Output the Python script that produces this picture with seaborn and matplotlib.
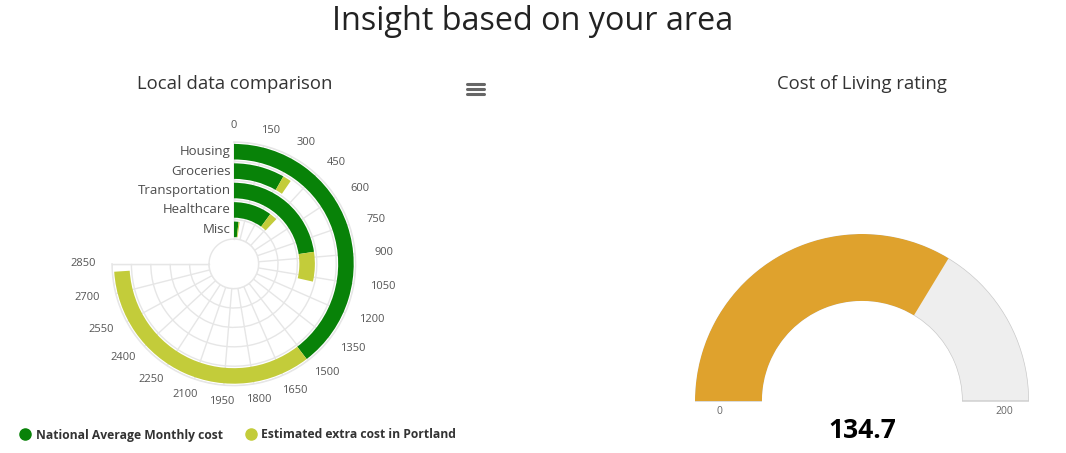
import numpy as np
import matplotlib
matplotlib.use("Agg")
import matplotlib.pyplot as plt
from matplotlib.lines import Line2D
import seaborn as sns

# ===== 数据 =====
categories = ["Housing", "Groceries", "Transportation", "Healthcare", "Misc"]
national_cost = [1505, 312, 860, 383, 68]
extra_cost = [1305, 52, 224, 77, 16]
axis_max = 2850
axis_ticks = list(range(0, 2851, 150))

rating_value = 134.7
rating_max = 200

GREEN = "#088208"
YELLOW = "#c3cc3a"
ORANGE = "#dfa22d"
GRID = "#e6e6e6"

sns.set_theme(style="white")
plt.rcParams["font.family"] = ["Open Sans", "DejaVu Sans"]

fig = plt.figure(figsize=(10.66, 4.53), dpi=100)
W, H = 1066, 453
PT = 72 / 100  # 像素 -> 磅


def fig_box(x0, y0, x1, y1):
    """像素框 -> figure 坐标"""
    return [x0 / W, 1 - y1 / H, (x1 - x0) / W, (y1 - y0) / H]


# ===== 标题 =====
fig.text(533 / W, 1 - 21 / H, "Insight based on your area", ha="center", va="center",
         fontsize=23.3, color="#222222")
fig.text(235 / W, 1 - 84 / H, "Local data comparison", ha="center", va="center",
         fontsize=13.3, color="#333333")
fig.text(862 / W, 1 - 84 / H, "Cost of Living rating", ha="center", va="center",
         fontsize=13.3, color="#333333")

# 菜单图标
for yy in (83.5, 88.5, 93.5):
    fig.add_artist(Line2D([467 / W, 484 / W], [1 - yy / H, 1 - yy / H], color="#666666",
                          linewidth=2.2, transform=fig.transFigure))

# ===== 左图: 极坐标条形 =====
ax = fig.add_axes(fig_box(112, 142, 358, 388), projection="polar")
to_rad = 1.5 * np.pi / axis_max
n = len(categories)
r_pos = [n - 0.5 - i for i in range(n)]

ax.set_theta_zero_location("N")
ax.set_theta_direction(-1)
ax.set_thetamin(0)
ax.set_thetamax(270)
ax.set_ylim(0, n)
ax.set_rorigin(-1.276)

ax.barh(r_pos, np.array(national_cost) * to_rad, left=0, height=0.8, color=GREEN,
        linewidth=0, zorder=3)
ax.barh(r_pos, np.array(extra_cost) * to_rad, left=np.array(national_cost) * to_rad,
        height=0.8, color=YELLOW, linewidth=0, zorder=3)

ax.set_thetagrids([t * 270 / axis_max for t in axis_ticks], [""] * len(axis_ticks))
ax.set_rgrids(range(0, n + 1), labels=[""] * (n + 1))
ax.grid(True, color=GRID, linewidth=1)
for sp in ax.spines.values():
    sp.set_color(GRID)
    sp.set_linewidth(1)
ax.set_facecolor("white")

# 内圈补全 (左上象限)
th = np.linspace(1.5 * np.pi, 2 * np.pi, 60)
ax.plot(th, np.zeros_like(th), color=GRID, linewidth=1, clip_on=False, zorder=1)

# 刻度标签 (放在外圈之外)
for t in axis_ticks:
    a = t * to_rad
    ax.annotate(str(t), xy=(a, n), xytext=(29 * np.sin(a) * PT, 16 * np.cos(a) * PT),
                textcoords="offset points", ha="center", va="center", fontsize=8,
                color="#555555", annotation_clip=False)

for r, name in zip(r_pos, categories):
    ax.annotate(name, xy=(0, r), xytext=(-2, 0), textcoords="offset points",
                ha="right", va="center", fontsize=9.5, color="#4d4d4d")

# ===== 右图: 仪表盘 =====
gx = fig.add_axes(fig_box(695, 234, 1029, 568), projection="polar")
gx.set_theta_zero_location("W")
gx.set_theta_direction(-1)
gx.set_ylim(0, 1)
gx.set_rorigin(-1.494)
gx.barh([0.5], [np.pi], left=0, height=1, color="#eeeeee", edgecolor="#cccccc",
        linewidth=1)
gx.barh([0.5], [np.pi * rating_value / rating_max], left=0, height=1, color=ORANGE,
        linewidth=0)
gx.set_axis_off()

gx.annotate("0", xy=(0, 0.63), xytext=(0, -11 * PT), textcoords="offset points",
            ha="center", va="center", fontsize=7.5, color="#666666", annotation_clip=False)
gx.annotate(str(rating_max), xy=(np.pi, 0.63), xytext=(0, -11 * PT),
            textcoords="offset points", ha="center", va="center", fontsize=7.5,
            color="#666666", annotation_clip=False)
fig.text(862 / W, 1 - 430 / H, f"{rating_value}", ha="center", va="center",
         fontsize=19, fontweight="bold", color="#000000")

# ===== 图例 =====
handles = [
    Line2D([], [], marker="o", linestyle="", color=GREEN, markersize=8),
    Line2D([], [], marker="o", linestyle="", color=YELLOW, markersize=8),
]
fig.legend(handles, ["National Average Monthly cost", "Estimated extra cost in Portland"],
           loc="center left", bbox_to_anchor=(14 / W, 1 - 435 / H), ncol=2, frameon=False,
           prop={"size": 8.7, "weight": "bold"}, labelcolor="#333333",
           handletextpad=0.4, columnspacing=1.8, handlelength=1.0, borderaxespad=0)

plt.savefig("out.png", dpi=100, facecolor="white")
